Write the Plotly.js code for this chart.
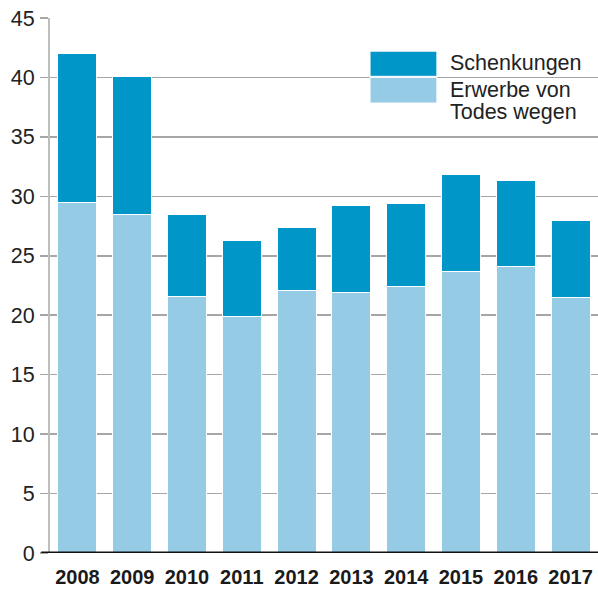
<!DOCTYPE html>
<html><head><meta charset="utf-8">
<script src="https://cdn.plot.ly/plotly-3.0.1.min.js"></script>
<style>html,body{margin:0;padding:0;background:#fff}</style>
</head><body>
<div id="chart" style="width:598px;height:590px"></div>
<script>
const years = ["2008","2009","2010","2011","2012","2013","2014","2015","2016","2017"];
const erwerbeTod = [29.5, 28.5, 21.6, 19.9, 22.1, 21.9, 22.4, 23.7, 24.1, 21.5];
const schenkungen = [12.5, 11.6, 6.9, 6.4, 5.3, 7.3, 7.0, 8.1, 7.2, 6.5];
const seriesNames = ["Erwerbe von Todes wegen", "Schenkungen"];
const legendLines = [["Erwerbe von", "Todes wegen"], ["Schenkungen"]];
const yTicks = [0,5,10,15,20,25,30,35,40,45];

const dark = "rgb(0,150,200)";
const light = "rgb(150,203,230)";
const font = "Liberation Sans, Arial, Helvetica, sans-serif";
const lf = {size:21.5, family:font, color:"#222"};

const traces = [
  {type:"bar", x:years, y:erwerbeTod, name:seriesNames[0],
   marker:{color:light, line:{color:"#fff", width:1}}, hoverinfo:"y"},
  {type:"bar", x:years, y:schenkungen, name:seriesNames[1],
   marker:{color:dark, line:{color:"#fff", width:1}}, hoverinfo:"y"}
];

const layout = {
  width:598, height:590,
  margin:{l:50, r:0, t:18, b:37},
  barmode:"stack", bargap:0.288,
  showlegend:false,
  paper_bgcolor:"#fff", plot_bgcolor:"#fff",
  font:{family:font, color:"#222"},
  xaxis:{type:"category", range:[-0.5, 9.5], showgrid:false, zeroline:false,
    showline:false, ticks:"", ticklabelstandoff:10,
    tickfont:{size:20, family:font, weight:"bold", color:"#1a1a1a"}},
  yaxis:{range:[0,45], tickvals:yTicks, ticktext:yTicks.map(String),
    showgrid:true, gridcolor:"#a6a6a6", gridwidth:1.5,
    zeroline:false, showline:true, linecolor:"#bdbdbd", linewidth:2,
    ticks:"outside", ticklen:8, tickcolor:"#a6a6a6", tickwidth:1.5,
    ticklabelstandoff:1,
    tickfont:{size:21.5, family:font, color:"#222"}},
  shapes:[
    {type:"line", xref:"paper", yref:"y", x0:-0.016, x1:1, y0:0, y1:0,
     line:{color:"#111", width:3}, layer:"above"},
    {type:"rect", xref:"paper", yref:"paper", x0:0.577, x1:0.971, y0:0.80, y1:0.95,
     fillcolor:"#fff", line:{width:0}, layer:"below"},
    {type:"rect", xref:"paper", yref:"paper", x0:0.584, x1:0.706, y0:0.891, y1:0.938,
     fillcolor:dark, line:{color:"#fff", width:1}, layer:"above"},
    {type:"rect", xref:"paper", yref:"paper", x0:0.584, x1:0.706, y0:0.841, y1:0.889,
     fillcolor:light, line:{color:"#fff", width:1}, layer:"above"}
  ],
  annotations:[
    {xref:"paper", yref:"paper", x:0.726, y:0.915, xanchor:"left", yanchor:"middle",
     text:legendLines[1][0], showarrow:false, font:lf},
    {xref:"paper", yref:"paper", x:0.726, y:(553-90)/535, xanchor:"left", yanchor:"middle",
     text:legendLines[0][0], showarrow:false, font:lf},
    {xref:"paper", yref:"paper", x:0.726, y:(553-112)/535, xanchor:"left", yanchor:"middle",
     text:legendLines[0][1], showarrow:false, font:lf}
  ]
};

Plotly.newPlot("chart", traces, layout, {staticPlot:true, displayModeBar:false});
</script>
</body></html>
